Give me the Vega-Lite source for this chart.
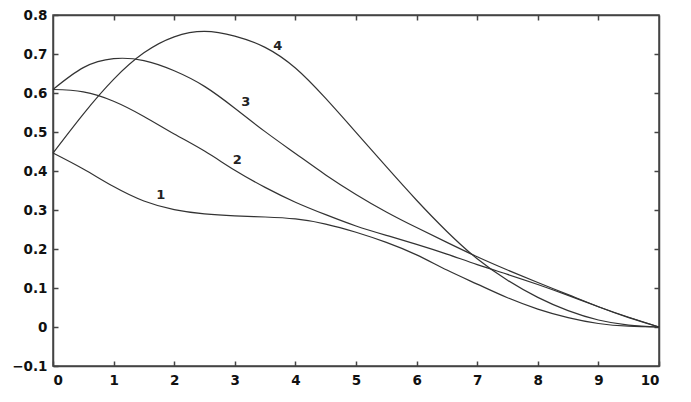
{
  "$schema": "https://vega.github.io/schema/vega-lite/v6.json",
  "width": 606,
  "height": 351,
  "autosize": "none",
  "padding": {"left": 53, "top": 15, "right": 32, "bottom": 36},
  "background": "white",
  "config": {
    "view": {"stroke": "#444", "strokeWidth": 1.5},
    "axis": {
      "grid": false,
      "domainColor": "#444",
      "domainWidth": 1.5,
      "tickColor": "#444",
      "tickWidth": 1.5,
      "tickSize": -5,
      "labelFont": "DejaVu Sans",
      "labelFontWeight": "bold",
      "labelFontSize": 13.5,
      "labelColor": "#111",
      "title": null
    }
  },
  "datasets": {
    "curves": [
      {"x":0,"y":0.446,"c":"1"},{"x":0.5,"y":0.405,"c":"1"},{"x":1,"y":0.36,"c":"1"},{"x":1.5,"y":0.323,"c":"1"},{"x":2,"y":0.301,"c":"1"},{"x":2.5,"y":0.29,"c":"1"},{"x":3,"y":0.285,"c":"1"},{"x":3.5,"y":0.282,"c":"1"},{"x":4,"y":0.277,"c":"1"},{"x":4.5,"y":0.264,"c":"1"},{"x":5,"y":0.243,"c":"1"},{"x":5.5,"y":0.217,"c":"1"},{"x":6,"y":0.185,"c":"1"},{"x":6.5,"y":0.146,"c":"1"},{"x":7,"y":0.11,"c":"1"},{"x":7.5,"y":0.075,"c":"1"},{"x":8,"y":0.046,"c":"1"},{"x":8.5,"y":0.024,"c":"1"},{"x":9,"y":0.009,"c":"1"},{"x":9.5,"y":0.002,"c":"1"},{"x":10,"y":0,"c":"1"},
      {"x":0,"y":0.609,"c":"2"},{"x":0.5,"y":0.603,"c":"2"},{"x":1,"y":0.579,"c":"2"},{"x":1.5,"y":0.54,"c":"2"},{"x":2,"y":0.495,"c":"2"},{"x":2.5,"y":0.451,"c":"2"},{"x":3,"y":0.402,"c":"2"},{"x":3.5,"y":0.358,"c":"2"},{"x":4,"y":0.32,"c":"2"},{"x":4.5,"y":0.288,"c":"2"},{"x":5,"y":0.259,"c":"2"},{"x":5.5,"y":0.235,"c":"2"},{"x":6,"y":0.212,"c":"2"},{"x":6.5,"y":0.187,"c":"2"},{"x":7,"y":0.16,"c":"2"},{"x":7.5,"y":0.135,"c":"2"},{"x":8,"y":0.109,"c":"2"},{"x":8.5,"y":0.081,"c":"2"},{"x":9,"y":0.052,"c":"2"},{"x":9.5,"y":0.025,"c":"2"},{"x":10,"y":0,"c":"2"},
      {"x":0,"y":0.609,"c":"3"},{"x":0.5,"y":0.665,"c":"3"},{"x":1,"y":0.688,"c":"3"},{"x":1.5,"y":0.683,"c":"3"},{"x":2,"y":0.657,"c":"3"},{"x":2.5,"y":0.617,"c":"3"},{"x":3,"y":0.561,"c":"3"},{"x":3.5,"y":0.501,"c":"3"},{"x":4,"y":0.445,"c":"3"},{"x":4.5,"y":0.39,"c":"3"},{"x":5,"y":0.34,"c":"3"},{"x":5.5,"y":0.295,"c":"3"},{"x":6,"y":0.255,"c":"3"},{"x":6.5,"y":0.217,"c":"3"},{"x":7,"y":0.18,"c":"3"},{"x":7.5,"y":0.146,"c":"3"},{"x":8,"y":0.114,"c":"3"},{"x":8.5,"y":0.083,"c":"3"},{"x":9,"y":0.052,"c":"3"},{"x":9.5,"y":0.024,"c":"3"},{"x":10,"y":0,"c":"3"},
      {"x":0,"y":0.446,"c":"4"},{"x":0.5,"y":0.546,"c":"4"},{"x":1,"y":0.635,"c":"4"},{"x":1.5,"y":0.703,"c":"4"},{"x":2,"y":0.744,"c":"4"},{"x":2.5,"y":0.758,"c":"4"},{"x":3,"y":0.746,"c":"4"},{"x":3.5,"y":0.717,"c":"4"},{"x":4,"y":0.664,"c":"4"},{"x":4.5,"y":0.586,"c":"4"},{"x":5,"y":0.499,"c":"4"},{"x":5.5,"y":0.411,"c":"4"},{"x":6,"y":0.325,"c":"4"},{"x":6.5,"y":0.245,"c":"4"},{"x":7,"y":0.175,"c":"4"},{"x":7.5,"y":0.12,"c":"4"},{"x":8,"y":0.076,"c":"4"},{"x":8.5,"y":0.042,"c":"4"},{"x":9,"y":0.018,"c":"4"},{"x":9.5,"y":0.005,"c":"4"},{"x":10,"y":0,"c":"4"}
    ],
    "labels": [
      {"x":1.78,"y":0.338,"t":"1"},
      {"x":3.04,"y":0.427,"t":"2"},
      {"x":3.18,"y":0.576,"t":"3"},
      {"x":3.71,"y":0.72,"t":"4"}
    ]
  },
  "layer": [
    {
      "data": {"name": "curves"},
      "mark": {"type": "line", "interpolate": "natural", "stroke": "#333", "strokeWidth": 1.2},
      "encoding": {
        "x": {"field": "x", "type": "quantitative", "scale": {"domain": [0, 10], "nice": false},
              "axis": {"orient": "bottom", "values": [0,1,2,3,4,5,6,7,8,9,10], "labelPadding": 12, "format": "d"}},
        "y": {"field": "y", "type": "quantitative", "scale": {"domain": [-0.1, 0.8], "nice": false, "zero": false},
              "axis": {"orient": "left", "values": [-0.1,0,0.1,0.2,0.3,0.4,0.5,0.6,0.7,0.8], "labelPadding": 11, "labelExpr": "datum.value == 0 ? '0' : format(datum.value, '.1f')"}},
        "detail": {"field": "c", "type": "nominal"}
      }
    },
    {
      "data": {"name": "labels"},
      "mark": {"type": "text", "font": "DejaVu Sans", "fontWeight": "bold", "fontSize": 13, "fill": "#222"},
      "encoding": {
        "x": {"field": "x", "type": "quantitative", "scale": {"domain": [0, 10], "nice": false},
              "axis": {"orient": "top", "values": [1,2,3,4,5,6,7,8,9], "labels": false}},
        "y": {"field": "y", "type": "quantitative", "scale": {"domain": [-0.1, 0.8], "nice": false, "zero": false},
              "axis": {"orient": "right", "values": [0,0.1,0.2,0.3,0.4,0.5,0.6,0.7], "labels": false}},
        "text": {"field": "t", "type": "nominal"}
      }
    }
  ],
  "resolve": {"axis": {"x": "independent", "y": "independent"}}
}
